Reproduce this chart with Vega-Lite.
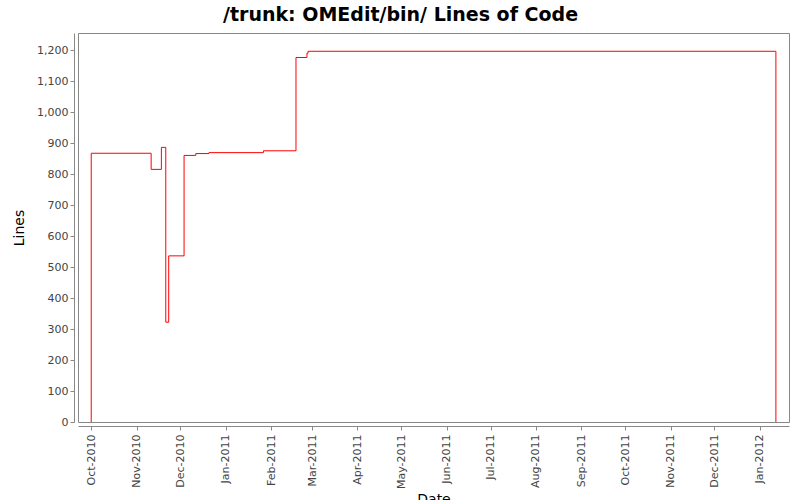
{
  "$schema": "https://vega.github.io/schema/vega-lite/v6.json",
  "width": 711,
  "height": 389,
  "autosize": "none",
  "padding": {"left": 78, "top": 33, "right": 11, "bottom": 78},
  "background": "white",
  "title": {
    "text": "/trunk: OMEdit/bin/ Lines of Code",
    "font": "DejaVu Sans",
    "fontSize": 19,
    "fontWeight": "bold",
    "color": "#000000",
    "anchor": "middle",
    "dx": -33,
    "offset": 8
  },
  "config": {
    "view": {"stroke": "#888888", "strokeWidth": 1},
    "axis": {
      "labelFont": "DejaVu Sans",
      "labelFontSize": 11,
      "labelColor": "#444444",
      "titleFont": "DejaVu Sans",
      "titleFontSize": 14,
      "titleFontWeight": "normal",
      "titleColor": "#000000",
      "domainColor": "#888888",
      "tickColor": "#888888",
      "tickSize": 4,
      "grid": false,
      "offset": 4
    }
  },
  "data": {
    "values": [
      {"i": 0, "date": "2010-10-01T00:00:00", "lines": 0},
      {"i": 1, "date": "2010-10-01T01:00:00", "lines": 867},
      {"i": 2, "date": "2010-11-11T00:00:00", "lines": 815},
      {"i": 3, "date": "2010-11-18T00:00:00", "lines": 886},
      {"i": 4, "date": "2010-11-21T00:00:00", "lines": 322},
      {"i": 5, "date": "2010-11-23T00:00:00", "lines": 536},
      {"i": 6, "date": "2010-12-03T12:00:00", "lines": 860},
      {"i": 7, "date": "2010-12-11T12:00:00", "lines": 866},
      {"i": 8, "date": "2010-12-20T12:00:00", "lines": 869},
      {"i": 9, "date": "2011-01-26T18:00:00", "lines": 875},
      {"i": 10, "date": "2011-02-18T00:00:00", "lines": 1176},
      {"i": 11, "date": "2011-02-25T12:00:00", "lines": 1190},
      {"i": 12, "date": "2011-02-26T06:00:00", "lines": 1196},
      {"i": 13, "date": "2012-01-12T00:00:00", "lines": 1196},
      {"i": 14, "date": "2012-01-12T01:00:00", "lines": 0}
    ]
  },
  "mark": {"type": "line", "interpolate": "step-after", "color": "#ff0000", "strokeWidth": 1},
  "encoding": {
    "x": {
      "field": "date",
      "type": "temporal",
      "title": "Date",
      "scale": {"domain": [{"year": 2010, "month": 9, "date": 22}, {"year": 2012, "month": 1, "date": 21}], "nice": false},
      "axis": {
        "format": "%b-%Y",
        "labelAngle": -90,
        "tickCount": {"interval": "month", "step": 1},
        "labelPadding": 4,
        "titlePadding": 4
      }
    },
    "y": {
      "field": "lines",
      "type": "quantitative",
      "title": "Lines",
      "scale": {"domain": [0, 1255], "nice": false, "zero": true},
      "axis": {
        "values": [0, 100, 200, 300, 400, 500, 600, 700, 800, 900, 1000, 1100, 1200],
        "format": ",d",
        "titlePadding": 10
      }
    },
    "order": {"field": "i", "type": "quantitative"}
  }
}
